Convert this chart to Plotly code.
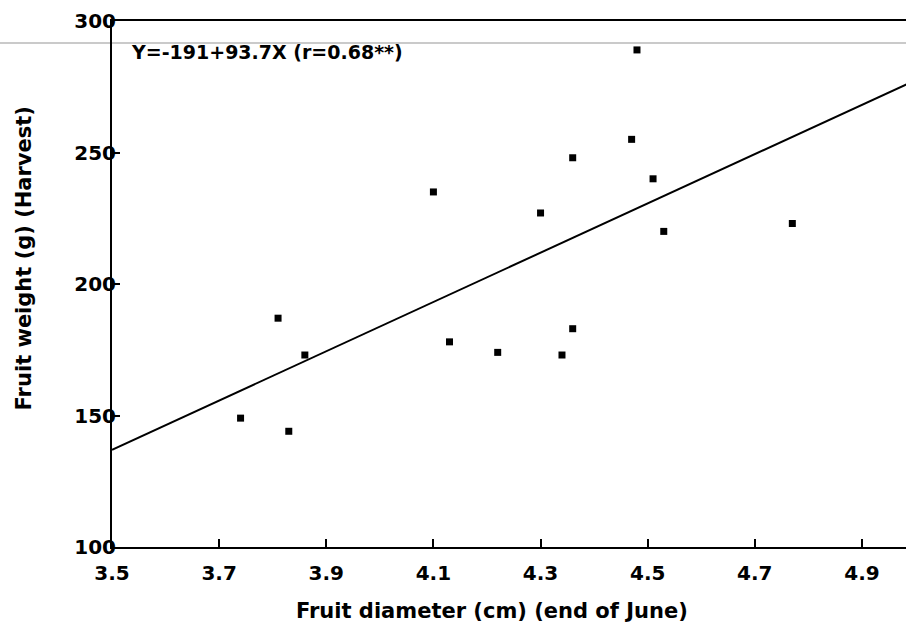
import plotly.graph_objects as go

# Data
diameter_cm = [3.74, 3.81, 3.83, 3.86, 4.10, 4.13, 4.22, 4.30, 4.34, 4.36,
               4.36, 4.47, 4.48, 4.51, 4.53, 4.77]
weight_g = [149, 187, 144, 173, 235, 178, 174, 227, 173, 248,
            183, 255, 289, 240, 220, 223]

# Regression line Y = a + bX
intercept = -191
slope = 93.7
line_x = [3.5, 5.0]
line_y = [intercept + slope * x for x in line_x]

x_ticks = [3.5, 3.7, 3.9, 4.1, 4.3, 4.5, 4.7, 4.9]
y_ticks = [100, 150, 200, 250, 300]

FONT = "DejaVu Sans"

fig = go.Figure()
fig.add_trace(go.Scatter(
    x=line_x, y=line_y, mode="lines",
    line=dict(color="black", width=2), hoverinfo="skip", showlegend=False))
fig.add_trace(go.Scatter(
    x=diameter_cm, y=weight_g, mode="markers",
    marker=dict(symbol="square", size=7, color="black"), showlegend=False))

fig.add_annotation(
    x=0.023, y=0.9417, xref="paper", yref="paper", xanchor="left", yanchor="middle",
    text="Y=-191+93.7X (r=0.68**)", showarrow=False, borderpad=0,
    font=dict(family=FONT, size=19, color="black", weight="bold"))

# axis titles
fig.add_annotation(
    x=0.479, y=-0.1225, xref="paper", yref="paper", xanchor="center", yanchor="middle",
    text="Fruit diameter (cm) (end of June)", showarrow=False,
    font=dict(family=FONT, size=21, color="black", weight="bold"))
fig.add_annotation(
    x=-0.1113, y=0.548, xref="paper", yref="paper", xanchor="center", yanchor="middle",
    text="Fruit weight (g) (Harvest)", showarrow=False, textangle=-90,
    font=dict(family=FONT, size=21, color="black", weight="bold"))

# faint scan line across the page
fig.add_shape(type="line", xref="paper", yref="y", x0=-0.2, x1=1.05, y0=291.6, y1=291.6,
              line=dict(color="#b8b8b8", width=1.5), layer="below")

fig.update_layout(
    width=906, height=627,
    margin=dict(l=112, r=0, t=21, b=80),
    paper_bgcolor="white", plot_bgcolor="white",
    font=dict(family=FONT, color="black"),
    xaxis=dict(
        range=[3.5, 4.9822], tickvals=x_ticks, ticktext=[f"{v:.1f}" for v in x_ticks],
        ticks="inside", ticklen=8, tickwidth=1.5, tickcolor="black",
        showline=True, linecolor="black", linewidth=2, mirror=True,
        showgrid=False, zeroline=False, ticklabelstandoff=7,
        tickfont=dict(family=FONT, size=20, color="black", weight="bold"),
        automargin=False),
    yaxis=dict(
        range=[100, 300], tickvals=y_ticks,
        ticks="inside", ticklen=8, tickwidth=1.5, tickcolor="black",
        showline=True, linecolor="black", linewidth=2, mirror=False,
        showgrid=False, zeroline=False, ticklabelstandoff=-10,
        tickfont=dict(family=FONT, size=20, color="black", weight="bold"),
        automargin=False),
)

fig.write_html(
    "out.html",
    config={"displayModeBar": False},
    post_script="document.body.style.margin='0';document.body.style.overflow='hidden';",
)
